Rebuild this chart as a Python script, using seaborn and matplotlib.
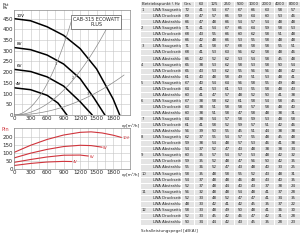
import matplotlib
matplotlib.use("Agg")
import matplotlib.pyplot as plt
import numpy as np
import pandas as pd
import seaborn as sns
from matplotlib.colors import ListedColormap

# fan curves, static pressure [Pa] vs airflow [m3/h]
speeds = ["10V", "8V", "6V", "4V"]
q_fan = {
    "10V": [0, 300, 600, 900, 1200, 1500, 1800, 1920],
    "8V": [0, 300, 600, 900, 1200, 1450, 1650],
    "6V": [0, 300, 600, 900, 1200, 1420],
    "4V": [0, 300, 600, 800, 960],
}
p_fan = {
    "10V": [450, 440, 412, 372, 310, 215, 75, 0],
    "8V": [315, 305, 280, 238, 170, 80, 0],
    "6V": [213, 203, 178, 135, 62, 0],
    "4V": [127, 118, 92, 55, 0],
}

# input power [W]
q_pow = {
    "10V": [0, 300, 600, 900, 1200, 1400, 1600, 1800, 1950],
    "8V": [0, 300, 600, 900, 1200, 1400, 1600],
    "6V": [0, 300, 600, 900, 1200, 1350],
    "4V": [0, 300, 600, 900, 1050],
}
p_pow = {
    "10V": [105, 150, 187, 215, 232, 235, 228, 214, 200],
    "8V": [70, 100, 124, 142, 150, 148, 138],
    "6V": [42, 60, 76, 87, 88, 82],
    "4V": [22, 35, 44, 48, 47],
}

# system curves through operating points
sys_q = [950, 1350, 1700]
sys_p = [365, 260, 135]

hz_cols = ["Ges", "63", "125", "250", "500", "1000", "2000", "4000", "8000"]
row_kinds = ["LWA Saugseitig", "LWA Druckseitig", "LWA Abstrahlung"]
lwa = [
    [72, 41, 54, 67, 67, 66, 63, 58, 57], [69, 47, 57, 66, 59, 64, 60, 53, 46], [66, 47, 48, 66, 54, 57, 54, 48, 48],
    [71, 41, 54, 67, 66, 64, 59, 58, 53], [68, 43, 55, 66, 60, 62, 58, 51, 48], [66, 42, 48, 66, 53, 55, 58, 48, 48],
    [71, 41, 58, 67, 68, 58, 58, 55, 51], [68, 41, 53, 63, 56, 62, 58, 48, 46], [66, 42, 52, 62, 53, 54, 58, 45, 48],
    [65, 38, 53, 62, 58, 53, 58, 50, 54], [65, 43, 53, 62, 55, 56, 56, 48, 42], [61, 40, 48, 58, 49, 51, 53, 48, 41],
    [67, 40, 54, 64, 56, 58, 55, 49, 48], [64, 41, 53, 61, 53, 55, 58, 48, 43], [60, 41, 47, 57, 48, 52, 50, 41, 38],
    [67, 38, 58, 62, 61, 58, 54, 58, 45], [63, 38, 51, 58, 58, 57, 58, 48, 40], [60, 38, 51, 58, 47, 58, 48, 38, 31],
    [64, 38, 54, 57, 58, 59, 53, 48, 58], [61, 41, 58, 52, 59, 57, 51, 42, 46], [56, 39, 50, 55, 45, 51, 44, 38, 38],
    [62, 37, 55, 54, 57, 55, 48, 45, 48], [59, 38, 54, 48, 57, 53, 46, 41, 38], [54, 37, 52, 47, 43, 48, 38, 38, 34],
    [60, 35, 57, 54, 57, 53, 48, 42, 32], [59, 35, 52, 48, 47, 56, 50, 42, 35], [55, 36, 52, 47, 43, 48, 40, 33, 25],
    [58, 35, 48, 58, 55, 52, 43, 48, 31], [54, 37, 48, 48, 46, 48, 43, 40, 35], [52, 37, 48, 44, 40, 43, 37, 38, 24],
    [56, 32, 48, 48, 54, 48, 41, 37, 28], [52, 33, 48, 52, 47, 47, 41, 34, 35], [48, 33, 42, 41, 42, 45, 35, 37, 22],
    [58, 33, 48, 49, 50, 48, 41, 36, 30], [52, 33, 45, 42, 46, 47, 42, 31, 28], [50, 34, 44, 42, 43, 45, 35, 28, 23],
]

sns.set_theme(style="white")
plt.rcParams["font.family"] = ["DejaVu Sans"]
FS = 4.0
red = "#d0343c"

fig = plt.figure(figsize=(3.0, 2.4), dpi=100)


def style_axes(ax, ymax, ytop, ystep):
    ax.set_xlim(0, 2100)
    ax.set_ylim(0, ymax)
    ax.set_xticks(range(0, 2100, 150), minor=True)
    ax.set_xticks(range(0, 2000, 300))
    ax.set_xticklabels([str(v) for v in range(0, 2000, 300)])
    ax.set_yticks(range(0, ytop + 1, ystep))
    ax.grid(True, which="both", color="#c4c4c4", lw=0.4)
    ax.tick_params(labelsize=FS, pad=1, length=0)
    ax.set_xlabel("")
    ax.set_ylabel("")
    for sp in ax.spines.values():
        sp.set_color("#888888")
        sp.set_linewidth(0.5)
    ax.text(1960, -0.085 * ymax, "qv[m³/h]", fontsize=3.0, ha="left", va="top", clip_on=False)


# ---- upper chart: pressure
ax1 = fig.add_axes([0.047, 0.521, 0.385, 0.437])
for s in speeds:
    df = pd.DataFrame({"q": q_fan[s], "p": p_fan[s]})
    sns.lineplot(data=df, x="q", y="p", ax=ax1, color="black", lw=1.1, sort=False)
qq = np.linspace(0, 2000, 60)
for i, (qs, ps) in enumerate(zip(sys_q, sys_p)):
    k = ps / qs ** 2
    m = k * qq ** 2 <= 470
    ax1.plot(qq[m], k * qq[m] ** 2, color="#8a8a8a", lw=0.5)
    ax1.text(qs * 0.78, k * (qs * 0.78) ** 2 + 12, str(i + 1), fontsize=2.8, color="#555555")
for s, y in zip(speeds, [452, 318, 216, 130]):
    ax1.text(40, y + 8, s, fontsize=3.0, color="black")
style_axes(ax1, 490, 450, 50)
ax1.text(-0.1, 1.07, "Pst\nPa", transform=ax1.transAxes, fontsize=3.2, va="top", ha="left", linespacing=0.85)
ax1.text(0.71, 0.885, "CAB-315 ECOWATT\nPLUS", transform=ax1.transAxes, fontsize=3.5, ha="center", va="center",
         linespacing=1.0, bbox=dict(boxstyle="square,pad=0.35", fc="white", ec="#555555", lw=0.5))

# ---- lower chart: input power
ax2 = fig.add_axes([0.047, 0.296, 0.385, 0.171])
for s in speeds:
    df = pd.DataFrame({"q": q_pow[s], "p": p_pow[s]})
    sns.lineplot(data=df, x="q", y="p", ax=ax2, color=red, lw=0.8, sort=False)
    ax2.text(q_pow[s][-1] + 20, p_pow[s][-1] - 10, s, fontsize=2.6, color=red)
style_axes(ax2, 260, 200, 50)
ax2.text(-0.11, 0.97, "Pin", transform=ax2.transAxes, fontsize=3.6, color=red, va="center", ha="left")

# ---- table
n_rows = 1 + len(lwa)
bg = np.zeros((n_rows, len(hz_cols)))
annot = np.array([hz_cols] + [[str(v) for v in r] for r in lwa], dtype=object)
cmap = ListedColormap(["#e4e4e4"])

tab_top = 1 - 1 / 240
tab_h = 224 / 240
axl = fig.add_axes([140 / 300, tab_top - tab_h, 40 / 300, tab_h])
sns.heatmap(np.zeros((n_rows, 1)), ax=axl, cmap=cmap, cbar=False, linewidths=0.5, linecolor="white")
axl.set_xticks([])
axl.set_yticks([])
axl.text(0.04, 0.5, "Betriebspunkt \\ Hz", fontsize=2.9, va="center", ha="left")
for g in range(12):
    for j, kind in enumerate(row_kinds):
        r = 1 + g * 3 + j
        if j == 0:
            axl.text(0.03, r + 0.5, str(g + 1), fontsize=2.7, va="center", ha="left")
        axl.text(0.33, r + 0.5, kind, fontsize=2.7, va="center", ha="left")

axv = fig.add_axes([181 / 300, tab_top - tab_h, 119 / 300, tab_h])
sns.heatmap(bg, ax=axv, cmap=cmap, cbar=False, annot=annot, fmt="",
            annot_kws={"size": 2.9, "color": "#222222"}, linewidths=0.5, linecolor="white")
axv.set_xticks([])
axv.set_yticks([])

fig.text(141 / 300, 1 - 231 / 240, "Schalleistungspegel [dB(A)]", fontsize=2.9, va="center", ha="left")

fig.savefig("out.png", dpi=100)
